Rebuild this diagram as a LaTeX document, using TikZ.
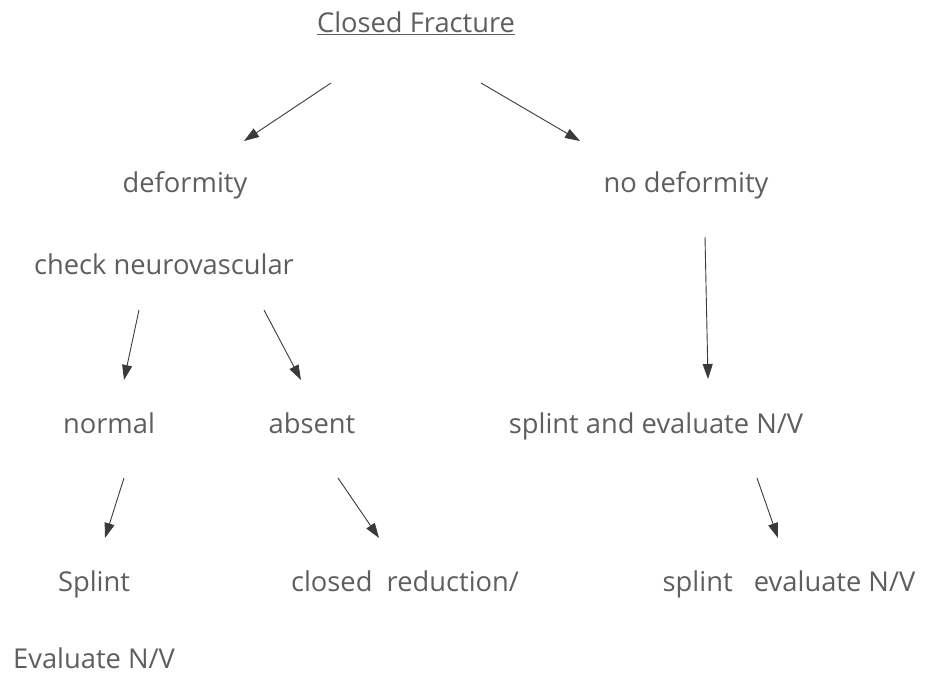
\documentclass[tikz,border=0pt]{standalone}
\usepackage{fontspec}
\setmainfont{Open Sans}
\usetikzlibrary{arrows.meta}
\definecolor{txt}{HTML}{5E5E5E}
\definecolor{ln}{HTML}{3A3A3A}
\begin{document}
\begin{tikzpicture}[x=1pt,y=-1pt,
  lbl/.style={text=txt,font=\fontsize{27.3}{32}\selectfont,inner sep=0pt,anchor=base},
  arr/.style={draw=ln,line width=0.9pt,-{Triangle[length=15pt,width=10pt]}}]
\useasboundingbox (0,0) rectangle (926,676);
\node[lbl] (cf) at (416,33) {\underline{Closed Fracture}};
\node[lbl] (def) at (185,193) {deformity};
\node[lbl] (nodef) at (686,193) {no deformity};
\node[lbl] (check) at (164,275) {check neurovascular};
\node[lbl] (normal) at (109,433) {normal};
\node[lbl] (absent) at (312,433) {absent};
\node[lbl] (splev) at (656,433) {splint and evaluate N/V};
\node[lbl] (splint) at (94,591) {Splint};
\node[lbl] (closed) at (405,591) {closed\ \ reduction/};
\node[lbl] (splev2) at (789,591) {splint\ \ \ evaluate N/V};
\node[lbl,anchor=base west] (eval) at (13,668) {Evaluate N/V};
% arrow end points
\coordinate (a1s) at (331,83); \coordinate (a1e) at (244,141);
\coordinate (a2s) at (481,83); \coordinate (a2e) at (580,141);
\coordinate (a3s) at (705,237); \coordinate (a3e) at (708,379);
\coordinate (a4s) at (139,310); \coordinate (a4e) at (124,380);
\coordinate (a5s) at (264,310); \coordinate (a5e) at (301,380);
\coordinate (a6s) at (124,478); \coordinate (a6e) at (105,538);
\coordinate (a7s) at (338,478); \coordinate (a7e) at (379,538);
\coordinate (a8s) at (757,478); \coordinate (a8e) at (778,538);
\draw[arr] (a1s) -- (a1e);
\draw[arr] (a2s) -- (a2e);
\draw[arr] (a3s) -- (a3e);
\draw[arr] (a4s) -- (a4e);
\draw[arr] (a5s) -- (a5e);
\draw[arr] (a6s) -- (a6e);
\draw[arr] (a7s) -- (a7e);
\draw[arr] (a8s) -- (a8e);
\end{tikzpicture}
\end{document}
